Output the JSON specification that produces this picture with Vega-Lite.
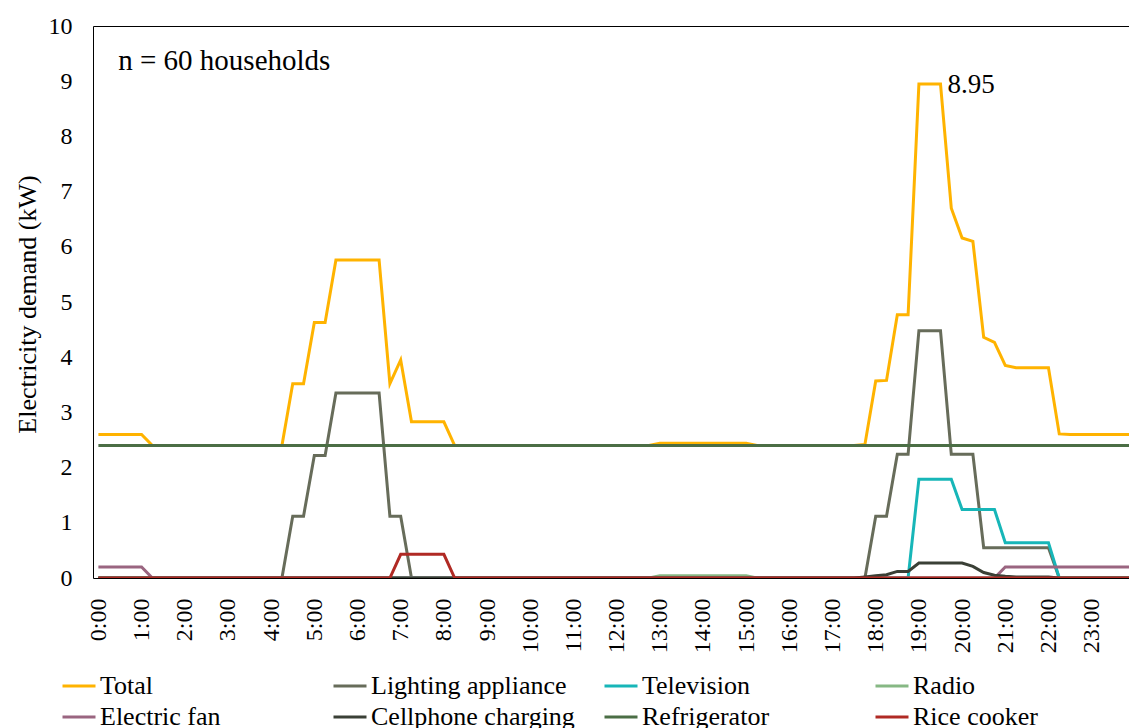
{
  "$schema": "https://vega.github.io/schema/vega-lite/v6.json",
  "width": 1036,
  "height": 552,
  "autosize": {"type": "none"},
  "padding": {"left": 93, "top": 26, "right": 0, "bottom": 150},
  "background": "white",
  "config": {
    "font": "Liberation Serif",
    "view": {"stroke": "#000", "strokeWidth": 1},
    "axis": {"labelColor": "#000", "titleColor": "#000", "labelFont": "Liberation Serif", "titleFont": "Liberation Serif"}
  },
  "datasets": {
    "d": [
      {"t": 0, "Total": 2.6, "Lighting appliance": 0, "Television": 0, "Radio": 0, "Electric fan": 0.2, "Cellphone charging": 0, "Refrigerator": 2.4, "Rice cooker": 0},
      {"t": 0.25, "Total": 2.6, "Lighting appliance": 0, "Television": 0, "Radio": 0, "Electric fan": 0.2, "Cellphone charging": 0, "Refrigerator": 2.4, "Rice cooker": 0},
      {"t": 0.5, "Total": 2.6, "Lighting appliance": 0, "Television": 0, "Radio": 0, "Electric fan": 0.2, "Cellphone charging": 0, "Refrigerator": 2.4, "Rice cooker": 0},
      {"t": 0.75, "Total": 2.6, "Lighting appliance": 0, "Television": 0, "Radio": 0, "Electric fan": 0.2, "Cellphone charging": 0, "Refrigerator": 2.4, "Rice cooker": 0},
      {"t": 1, "Total": 2.6, "Lighting appliance": 0, "Television": 0, "Radio": 0, "Electric fan": 0.2, "Cellphone charging": 0, "Refrigerator": 2.4, "Rice cooker": 0},
      {"t": 1.25, "Total": 2.4, "Lighting appliance": 0, "Television": 0, "Radio": 0, "Electric fan": 0, "Cellphone charging": 0, "Refrigerator": 2.4, "Rice cooker": 0},
      {"t": 1.5, "Total": 2.4, "Lighting appliance": 0, "Television": 0, "Radio": 0, "Electric fan": 0, "Cellphone charging": 0, "Refrigerator": 2.4, "Rice cooker": 0},
      {"t": 1.75, "Total": 2.4, "Lighting appliance": 0, "Television": 0, "Radio": 0, "Electric fan": 0, "Cellphone charging": 0, "Refrigerator": 2.4, "Rice cooker": 0},
      {"t": 2, "Total": 2.4, "Lighting appliance": 0, "Television": 0, "Radio": 0, "Electric fan": 0, "Cellphone charging": 0, "Refrigerator": 2.4, "Rice cooker": 0},
      {"t": 2.25, "Total": 2.4, "Lighting appliance": 0, "Television": 0, "Radio": 0, "Electric fan": 0, "Cellphone charging": 0, "Refrigerator": 2.4, "Rice cooker": 0},
      {"t": 2.5, "Total": 2.4, "Lighting appliance": 0, "Television": 0, "Radio": 0, "Electric fan": 0, "Cellphone charging": 0, "Refrigerator": 2.4, "Rice cooker": 0},
      {"t": 2.75, "Total": 2.4, "Lighting appliance": 0, "Television": 0, "Radio": 0, "Electric fan": 0, "Cellphone charging": 0, "Refrigerator": 2.4, "Rice cooker": 0},
      {"t": 3, "Total": 2.4, "Lighting appliance": 0, "Television": 0, "Radio": 0, "Electric fan": 0, "Cellphone charging": 0, "Refrigerator": 2.4, "Rice cooker": 0},
      {"t": 3.25, "Total": 2.4, "Lighting appliance": 0, "Television": 0, "Radio": 0, "Electric fan": 0, "Cellphone charging": 0, "Refrigerator": 2.4, "Rice cooker": 0},
      {"t": 3.5, "Total": 2.4, "Lighting appliance": 0, "Television": 0, "Radio": 0, "Electric fan": 0, "Cellphone charging": 0, "Refrigerator": 2.4, "Rice cooker": 0},
      {"t": 3.75, "Total": 2.4, "Lighting appliance": 0, "Television": 0, "Radio": 0, "Electric fan": 0, "Cellphone charging": 0, "Refrigerator": 2.4, "Rice cooker": 0},
      {"t": 4, "Total": 2.4, "Lighting appliance": 0, "Television": 0, "Radio": 0, "Electric fan": 0, "Cellphone charging": 0, "Refrigerator": 2.4, "Rice cooker": 0},
      {"t": 4.25, "Total": 2.4, "Lighting appliance": 0, "Television": 0, "Radio": 0, "Electric fan": 0, "Cellphone charging": 0, "Refrigerator": 2.4, "Rice cooker": 0},
      {"t": 4.5, "Total": 3.52, "Lighting appliance": 1.12, "Television": 0, "Radio": 0, "Electric fan": 0, "Cellphone charging": 0, "Refrigerator": 2.4, "Rice cooker": 0},
      {"t": 4.75, "Total": 3.52, "Lighting appliance": 1.12, "Television": 0, "Radio": 0, "Electric fan": 0, "Cellphone charging": 0, "Refrigerator": 2.4, "Rice cooker": 0},
      {"t": 5, "Total": 4.63, "Lighting appliance": 2.22, "Television": 0, "Radio": 0, "Electric fan": 0, "Cellphone charging": 0, "Refrigerator": 2.4, "Rice cooker": 0},
      {"t": 5.25, "Total": 4.63, "Lighting appliance": 2.22, "Television": 0, "Radio": 0, "Electric fan": 0, "Cellphone charging": 0, "Refrigerator": 2.4, "Rice cooker": 0},
      {"t": 5.5, "Total": 5.76, "Lighting appliance": 3.35, "Television": 0, "Radio": 0, "Electric fan": 0, "Cellphone charging": 0, "Refrigerator": 2.4, "Rice cooker": 0},
      {"t": 5.75, "Total": 5.76, "Lighting appliance": 3.35, "Television": 0, "Radio": 0, "Electric fan": 0, "Cellphone charging": 0, "Refrigerator": 2.4, "Rice cooker": 0},
      {"t": 6, "Total": 5.76, "Lighting appliance": 3.35, "Television": 0, "Radio": 0, "Electric fan": 0, "Cellphone charging": 0, "Refrigerator": 2.4, "Rice cooker": 0},
      {"t": 6.25, "Total": 5.76, "Lighting appliance": 3.35, "Television": 0, "Radio": 0, "Electric fan": 0, "Cellphone charging": 0, "Refrigerator": 2.4, "Rice cooker": 0},
      {"t": 6.5, "Total": 5.76, "Lighting appliance": 3.35, "Television": 0, "Radio": 0, "Electric fan": 0, "Cellphone charging": 0, "Refrigerator": 2.4, "Rice cooker": 0},
      {"t": 6.75, "Total": 3.52, "Lighting appliance": 1.12, "Television": 0, "Radio": 0, "Electric fan": 0, "Cellphone charging": 0, "Refrigerator": 2.4, "Rice cooker": 0},
      {"t": 7, "Total": 3.95, "Lighting appliance": 1.12, "Television": 0, "Radio": 0, "Electric fan": 0, "Cellphone charging": 0, "Refrigerator": 2.4, "Rice cooker": 0.43},
      {"t": 7.25, "Total": 2.83, "Lighting appliance": 0, "Television": 0, "Radio": 0, "Electric fan": 0, "Cellphone charging": 0, "Refrigerator": 2.4, "Rice cooker": 0.43},
      {"t": 7.5, "Total": 2.83, "Lighting appliance": 0, "Television": 0, "Radio": 0, "Electric fan": 0, "Cellphone charging": 0, "Refrigerator": 2.4, "Rice cooker": 0.43},
      {"t": 7.75, "Total": 2.83, "Lighting appliance": 0, "Television": 0, "Radio": 0, "Electric fan": 0, "Cellphone charging": 0, "Refrigerator": 2.4, "Rice cooker": 0.43},
      {"t": 8, "Total": 2.83, "Lighting appliance": 0, "Television": 0, "Radio": 0, "Electric fan": 0, "Cellphone charging": 0, "Refrigerator": 2.4, "Rice cooker": 0.43},
      {"t": 8.25, "Total": 2.4, "Lighting appliance": 0, "Television": 0, "Radio": 0, "Electric fan": 0, "Cellphone charging": 0, "Refrigerator": 2.4, "Rice cooker": 0},
      {"t": 8.5, "Total": 2.4, "Lighting appliance": 0, "Television": 0, "Radio": 0, "Electric fan": 0, "Cellphone charging": 0, "Refrigerator": 2.4, "Rice cooker": 0},
      {"t": 8.75, "Total": 2.4, "Lighting appliance": 0, "Television": 0, "Radio": 0, "Electric fan": 0, "Cellphone charging": 0, "Refrigerator": 2.4, "Rice cooker": 0},
      {"t": 9, "Total": 2.4, "Lighting appliance": 0, "Television": 0, "Radio": 0, "Electric fan": 0, "Cellphone charging": 0, "Refrigerator": 2.4, "Rice cooker": 0},
      {"t": 9.25, "Total": 2.4, "Lighting appliance": 0, "Television": 0, "Radio": 0, "Electric fan": 0, "Cellphone charging": 0, "Refrigerator": 2.4, "Rice cooker": 0},
      {"t": 9.5, "Total": 2.4, "Lighting appliance": 0, "Television": 0, "Radio": 0, "Electric fan": 0, "Cellphone charging": 0, "Refrigerator": 2.4, "Rice cooker": 0},
      {"t": 9.75, "Total": 2.4, "Lighting appliance": 0, "Television": 0, "Radio": 0, "Electric fan": 0, "Cellphone charging": 0, "Refrigerator": 2.4, "Rice cooker": 0},
      {"t": 10, "Total": 2.4, "Lighting appliance": 0, "Television": 0, "Radio": 0, "Electric fan": 0, "Cellphone charging": 0, "Refrigerator": 2.4, "Rice cooker": 0},
      {"t": 10.25, "Total": 2.4, "Lighting appliance": 0, "Television": 0, "Radio": 0, "Electric fan": 0, "Cellphone charging": 0, "Refrigerator": 2.4, "Rice cooker": 0},
      {"t": 10.5, "Total": 2.4, "Lighting appliance": 0, "Television": 0, "Radio": 0, "Electric fan": 0, "Cellphone charging": 0, "Refrigerator": 2.4, "Rice cooker": 0},
      {"t": 10.75, "Total": 2.4, "Lighting appliance": 0, "Television": 0, "Radio": 0, "Electric fan": 0, "Cellphone charging": 0, "Refrigerator": 2.4, "Rice cooker": 0},
      {"t": 11, "Total": 2.4, "Lighting appliance": 0, "Television": 0, "Radio": 0, "Electric fan": 0, "Cellphone charging": 0, "Refrigerator": 2.4, "Rice cooker": 0},
      {"t": 11.25, "Total": 2.4, "Lighting appliance": 0, "Television": 0, "Radio": 0, "Electric fan": 0, "Cellphone charging": 0, "Refrigerator": 2.4, "Rice cooker": 0},
      {"t": 11.5, "Total": 2.4, "Lighting appliance": 0, "Television": 0, "Radio": 0, "Electric fan": 0, "Cellphone charging": 0, "Refrigerator": 2.4, "Rice cooker": 0},
      {"t": 11.75, "Total": 2.4, "Lighting appliance": 0, "Television": 0, "Radio": 0, "Electric fan": 0, "Cellphone charging": 0, "Refrigerator": 2.4, "Rice cooker": 0},
      {"t": 12, "Total": 2.4, "Lighting appliance": 0, "Television": 0, "Radio": 0, "Electric fan": 0, "Cellphone charging": 0, "Refrigerator": 2.4, "Rice cooker": 0},
      {"t": 12.25, "Total": 2.4, "Lighting appliance": 0, "Television": 0, "Radio": 0, "Electric fan": 0, "Cellphone charging": 0, "Refrigerator": 2.4, "Rice cooker": 0},
      {"t": 12.5, "Total": 2.4, "Lighting appliance": 0, "Television": 0, "Radio": 0, "Electric fan": 0, "Cellphone charging": 0, "Refrigerator": 2.4, "Rice cooker": 0},
      {"t": 12.75, "Total": 2.4, "Lighting appliance": 0, "Television": 0, "Radio": 0, "Electric fan": 0, "Cellphone charging": 0, "Refrigerator": 2.4, "Rice cooker": 0},
      {"t": 13, "Total": 2.44, "Lighting appliance": 0, "Television": 0, "Radio": 0.04, "Electric fan": 0, "Cellphone charging": 0, "Refrigerator": 2.4, "Rice cooker": 0},
      {"t": 13.25, "Total": 2.44, "Lighting appliance": 0, "Television": 0, "Radio": 0.04, "Electric fan": 0, "Cellphone charging": 0, "Refrigerator": 2.4, "Rice cooker": 0},
      {"t": 13.5, "Total": 2.44, "Lighting appliance": 0, "Television": 0, "Radio": 0.04, "Electric fan": 0, "Cellphone charging": 0, "Refrigerator": 2.4, "Rice cooker": 0},
      {"t": 13.75, "Total": 2.44, "Lighting appliance": 0, "Television": 0, "Radio": 0.04, "Electric fan": 0, "Cellphone charging": 0, "Refrigerator": 2.4, "Rice cooker": 0},
      {"t": 14, "Total": 2.44, "Lighting appliance": 0, "Television": 0, "Radio": 0.04, "Electric fan": 0, "Cellphone charging": 0, "Refrigerator": 2.4, "Rice cooker": 0},
      {"t": 14.25, "Total": 2.44, "Lighting appliance": 0, "Television": 0, "Radio": 0.04, "Electric fan": 0, "Cellphone charging": 0, "Refrigerator": 2.4, "Rice cooker": 0},
      {"t": 14.5, "Total": 2.44, "Lighting appliance": 0, "Television": 0, "Radio": 0.04, "Electric fan": 0, "Cellphone charging": 0, "Refrigerator": 2.4, "Rice cooker": 0},
      {"t": 14.75, "Total": 2.44, "Lighting appliance": 0, "Television": 0, "Radio": 0.04, "Electric fan": 0, "Cellphone charging": 0, "Refrigerator": 2.4, "Rice cooker": 0},
      {"t": 15, "Total": 2.44, "Lighting appliance": 0, "Television": 0, "Radio": 0.04, "Electric fan": 0, "Cellphone charging": 0, "Refrigerator": 2.4, "Rice cooker": 0},
      {"t": 15.25, "Total": 2.4, "Lighting appliance": 0, "Television": 0, "Radio": 0, "Electric fan": 0, "Cellphone charging": 0, "Refrigerator": 2.4, "Rice cooker": 0},
      {"t": 15.5, "Total": 2.4, "Lighting appliance": 0, "Television": 0, "Radio": 0, "Electric fan": 0, "Cellphone charging": 0, "Refrigerator": 2.4, "Rice cooker": 0},
      {"t": 15.75, "Total": 2.4, "Lighting appliance": 0, "Television": 0, "Radio": 0, "Electric fan": 0, "Cellphone charging": 0, "Refrigerator": 2.4, "Rice cooker": 0},
      {"t": 16, "Total": 2.4, "Lighting appliance": 0, "Television": 0, "Radio": 0, "Electric fan": 0, "Cellphone charging": 0, "Refrigerator": 2.4, "Rice cooker": 0},
      {"t": 16.25, "Total": 2.4, "Lighting appliance": 0, "Television": 0, "Radio": 0, "Electric fan": 0, "Cellphone charging": 0, "Refrigerator": 2.4, "Rice cooker": 0},
      {"t": 16.5, "Total": 2.4, "Lighting appliance": 0, "Television": 0, "Radio": 0, "Electric fan": 0, "Cellphone charging": 0, "Refrigerator": 2.4, "Rice cooker": 0},
      {"t": 16.75, "Total": 2.4, "Lighting appliance": 0, "Television": 0, "Radio": 0, "Electric fan": 0, "Cellphone charging": 0, "Refrigerator": 2.4, "Rice cooker": 0},
      {"t": 17, "Total": 2.4, "Lighting appliance": 0, "Television": 0, "Radio": 0, "Electric fan": 0, "Cellphone charging": 0, "Refrigerator": 2.4, "Rice cooker": 0},
      {"t": 17.25, "Total": 2.4, "Lighting appliance": 0, "Television": 0, "Radio": 0, "Electric fan": 0, "Cellphone charging": 0, "Refrigerator": 2.4, "Rice cooker": 0},
      {"t": 17.5, "Total": 2.4, "Lighting appliance": 0, "Television": 0, "Radio": 0, "Electric fan": 0, "Cellphone charging": 0, "Refrigerator": 2.4, "Rice cooker": 0},
      {"t": 17.75, "Total": 2.42, "Lighting appliance": 0, "Television": 0, "Radio": 0, "Electric fan": 0, "Cellphone charging": 0.02, "Refrigerator": 2.4, "Rice cooker": 0},
      {"t": 18, "Total": 3.57, "Lighting appliance": 1.12, "Television": 0, "Radio": 0, "Electric fan": 0, "Cellphone charging": 0.04, "Refrigerator": 2.4, "Rice cooker": 0},
      {"t": 18.25, "Total": 3.58, "Lighting appliance": 1.12, "Television": 0, "Radio": 0, "Electric fan": 0, "Cellphone charging": 0.06, "Refrigerator": 2.4, "Rice cooker": 0},
      {"t": 18.5, "Total": 4.77, "Lighting appliance": 2.24, "Television": 0, "Radio": 0, "Electric fan": 0, "Cellphone charging": 0.12, "Refrigerator": 2.4, "Rice cooker": 0},
      {"t": 18.75, "Total": 4.77, "Lighting appliance": 2.24, "Television": 0, "Radio": 0, "Electric fan": 0, "Cellphone charging": 0.12, "Refrigerator": 2.4, "Rice cooker": 0},
      {"t": 19, "Total": 8.95, "Lighting appliance": 4.48, "Television": 1.79, "Radio": 0, "Electric fan": 0, "Cellphone charging": 0.27, "Refrigerator": 2.4, "Rice cooker": 0},
      {"t": 19.25, "Total": 8.95, "Lighting appliance": 4.48, "Television": 1.79, "Radio": 0, "Electric fan": 0, "Cellphone charging": 0.27, "Refrigerator": 2.4, "Rice cooker": 0},
      {"t": 19.5, "Total": 8.95, "Lighting appliance": 4.48, "Television": 1.79, "Radio": 0, "Electric fan": 0, "Cellphone charging": 0.27, "Refrigerator": 2.4, "Rice cooker": 0},
      {"t": 19.75, "Total": 6.7, "Lighting appliance": 2.24, "Television": 1.79, "Radio": 0, "Electric fan": 0, "Cellphone charging": 0.27, "Refrigerator": 2.4, "Rice cooker": 0},
      {"t": 20, "Total": 6.16, "Lighting appliance": 2.24, "Television": 1.24, "Radio": 0, "Electric fan": 0, "Cellphone charging": 0.27, "Refrigerator": 2.4, "Rice cooker": 0},
      {"t": 20.25, "Total": 6.1, "Lighting appliance": 2.24, "Television": 1.24, "Radio": 0, "Electric fan": 0, "Cellphone charging": 0.21, "Refrigerator": 2.4, "Rice cooker": 0},
      {"t": 20.5, "Total": 4.36, "Lighting appliance": 0.55, "Television": 1.24, "Radio": 0, "Electric fan": 0, "Cellphone charging": 0.1, "Refrigerator": 2.4, "Rice cooker": 0},
      {"t": 20.75, "Total": 4.27, "Lighting appliance": 0.55, "Television": 1.24, "Radio": 0, "Electric fan": 0, "Cellphone charging": 0.05, "Refrigerator": 2.4, "Rice cooker": 0},
      {"t": 21, "Total": 3.85, "Lighting appliance": 0.55, "Television": 0.64, "Radio": 0, "Electric fan": 0.2, "Cellphone charging": 0.03, "Refrigerator": 2.4, "Rice cooker": 0},
      {"t": 21.25, "Total": 3.81, "Lighting appliance": 0.55, "Television": 0.64, "Radio": 0, "Electric fan": 0.2, "Cellphone charging": 0.02, "Refrigerator": 2.4, "Rice cooker": 0},
      {"t": 21.5, "Total": 3.81, "Lighting appliance": 0.55, "Television": 0.64, "Radio": 0, "Electric fan": 0.2, "Cellphone charging": 0.02, "Refrigerator": 2.4, "Rice cooker": 0},
      {"t": 21.75, "Total": 3.81, "Lighting appliance": 0.55, "Television": 0.64, "Radio": 0, "Electric fan": 0.2, "Cellphone charging": 0.02, "Refrigerator": 2.4, "Rice cooker": 0},
      {"t": 22, "Total": 3.81, "Lighting appliance": 0.55, "Television": 0.64, "Radio": 0, "Electric fan": 0.2, "Cellphone charging": 0.02, "Refrigerator": 2.4, "Rice cooker": 0},
      {"t": 22.25, "Total": 2.61, "Lighting appliance": 0, "Television": 0, "Radio": 0, "Electric fan": 0.2, "Cellphone charging": 0, "Refrigerator": 2.4, "Rice cooker": 0},
      {"t": 22.5, "Total": 2.6, "Lighting appliance": 0, "Television": 0, "Radio": 0, "Electric fan": 0.2, "Cellphone charging": 0, "Refrigerator": 2.4, "Rice cooker": 0},
      {"t": 22.75, "Total": 2.6, "Lighting appliance": 0, "Television": 0, "Radio": 0, "Electric fan": 0.2, "Cellphone charging": 0, "Refrigerator": 2.4, "Rice cooker": 0},
      {"t": 23, "Total": 2.6, "Lighting appliance": 0, "Television": 0, "Radio": 0, "Electric fan": 0.2, "Cellphone charging": 0, "Refrigerator": 2.4, "Rice cooker": 0},
      {"t": 23.25, "Total": 2.6, "Lighting appliance": 0, "Television": 0, "Radio": 0, "Electric fan": 0.2, "Cellphone charging": 0, "Refrigerator": 2.4, "Rice cooker": 0},
      {"t": 23.5, "Total": 2.6, "Lighting appliance": 0, "Television": 0, "Radio": 0, "Electric fan": 0.2, "Cellphone charging": 0, "Refrigerator": 2.4, "Rice cooker": 0},
      {"t": 23.75, "Total": 2.6, "Lighting appliance": 0, "Television": 0, "Radio": 0, "Electric fan": 0.2, "Cellphone charging": 0, "Refrigerator": 2.4, "Rice cooker": 0},
      {"t": 24, "Total": 2.6, "Lighting appliance": 0, "Television": 0, "Radio": 0, "Electric fan": 0.2, "Cellphone charging": 0, "Refrigerator": 2.4, "Rice cooker": 0}
    ],
    "note": [
      {"t": 0.46, "kW": 9.2, "label": "n = 60 households"}
    ]
  },
  "layer": [
    {
      "data": {"name": "d"},
      "transform": [
        {"fold": ["Total", "Lighting appliance", "Television", "Radio", "Electric fan", "Cellphone charging", "Refrigerator", "Rice cooker"], "as": ["series", "kW"]}
      ],
      "mark": {"type": "line", "strokeWidth": 3, "clip": true},
      "encoding": {
        "x": {
          "field": "t", "type": "quantitative",
          "scale": {"domain": [-0.125, 23.865], "nice": false, "zero": false},
          "axis": {
            "values": [0,1,2,3,4,5,6,7,8,9,10,11,12,13,14,15,16,17,18,19,20,21,22,23,24],
            "labelExpr": "(datum.value % 24) + ':00'",
            "labelAngle": -90, "labelAlign": "right", "labelBaseline": "middle",
            "labelFontSize": 24, "labelPadding": 20, "labelFlush": false, "labelOverlap": false, "labelBound": false,
            "ticks": false, "domain": false, "grid": false, "title": null
          }
        },
        "y": {
          "field": "kW", "type": "quantitative",
          "scale": {"domain": [0, 10], "nice": false},
          "axis": {
            "values": [0,1,2,3,4,5,6,7,8,9,10],
            "labelFontSize": 24, "labelPadding": 21, "labelFlush": false, "labelOverlap": false,
            "ticks": false, "domain": false, "grid": false,
            "title": "Electricity demand (kW)", "titleFontSize": 26, "titleFontWeight": "normal",
            "titleAngle": -90, "titleX": -66, "titleY": 278, "titleAlign": "center", "titleBaseline": "middle"
          }
        },
        "color": {
          "field": "series", "type": "nominal",
          "scale": {
            "domain": ["Total", "Lighting appliance", "Television", "Radio", "Electric fan", "Cellphone charging", "Refrigerator", "Rice cooker"],
            "range": ["#FFB300", "#676C5A", "#17B6B8", "#86B884", "#9A6580", "#3A4036", "#4B6E45", "#B02A24"]
          },
          "legend": {
            "orient": "none", "legendX": -32, "legendY": 642, "direction": "horizontal", "columns": 4,
            "title": null, "symbolType": "stroke", "symbolSize": 1089, "symbolStrokeWidth": 3,
            "labelFont": "Liberation Serif", "labelFontSize": 26, "labelColor": "#000", "labelLimit": 400,
            "labelOffset": 3, "columnPadding": 23, "rowPadding": 0, "gridAlign": "all", "padding": 0
          }
        }
      }
    },
    {
      "data": {"name": "d"},
      "transform": [
        {"fold": ["Total"], "as": ["series", "kW"]},
        {"filter": "datum.t == 19.5"}
      ],
      "mark": {"type": "text", "align": "left", "baseline": "alphabetic", "dx": 7, "dy": 9, "fontSize": 27, "font": "Liberation Serif", "color": "#000"},
      "encoding": {
        "x": {"field": "t", "type": "quantitative"},
        "y": {"field": "kW", "type": "quantitative"},
        "text": {"field": "kW", "type": "quantitative", "format": ".2f"}
      }
    },
    {
      "data": {"name": "note"},
      "mark": {"type": "text", "align": "left", "baseline": "alphabetic", "fontSize": 29, "font": "Liberation Serif", "color": "#000"},
      "encoding": {
        "x": {"field": "t", "type": "quantitative"},
        "y": {"field": "kW", "type": "quantitative"},
        "text": {"field": "label", "type": "nominal"}
      }
    }
  ]
}
